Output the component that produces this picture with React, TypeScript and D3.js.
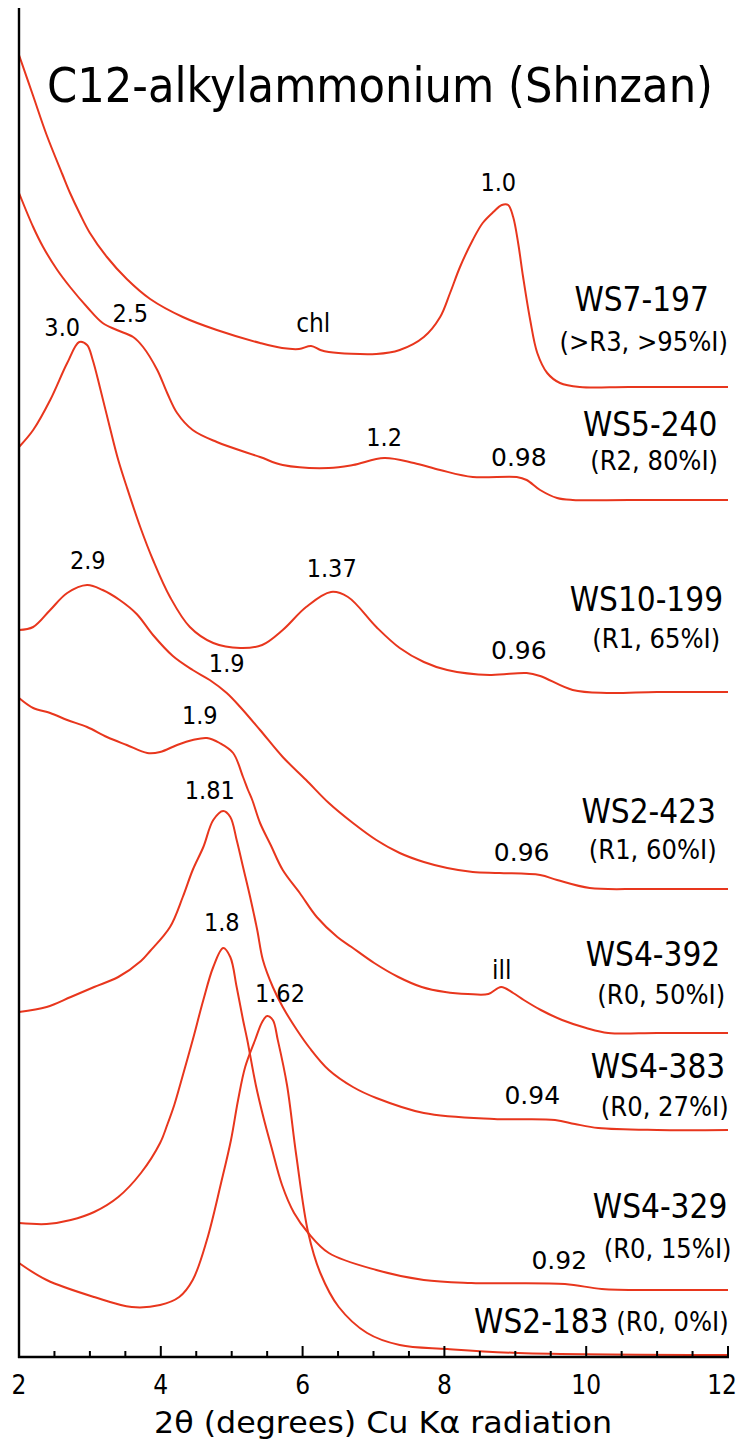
import * as d3 from "d3"

type Pt = [number, number]

// 2θ (degrees) vs. intensity (arbitrary units, traces stacked with offsets)
const ws7_197: Pt[] = [
  [2.0, 130.2], [2.2, 126.1], [2.39, 122.2], [2.61, 118.3], [2.72, 116.4], [2.86, 114.3],
  [3.0, 112.4], [3.24, 110.0], [3.52, 107.8], [3.85, 105.8], [4.31, 104.0], [4.79, 102.7],
  [5.4, 101.4], [5.71, 100.9], [5.95, 100.8], [6.12, 101.1], [6.25, 100.7], [6.37, 100.5],
  [7.04, 100.3], [7.37, 100.7], [7.71, 102.0], [7.94, 104.0], [8.08, 106.4], [8.22, 109.0],
  [8.4, 111.7], [8.54, 113.4], [8.69, 114.5], [8.81, 115.2], [8.9, 115.2], [8.97, 114.0],
  [9.04, 111.4], [9.11, 108.0], [9.21, 103.7], [9.31, 100.4], [9.45, 98.4], [9.63, 97.4],
  [9.91, 97.0], [10.6, 97.0], [12.0, 97.0],
]

const ws5_240: Pt[] = [
  [2.0, 116.4], [2.2, 113.0], [2.34, 111.0], [2.54, 108.7], [2.72, 107.0], [2.96, 105.0],
  [3.18, 103.4], [3.38, 102.7], [3.61, 102.0], [3.75, 101.0], [3.95, 98.7], [4.09, 96.4],
  [4.23, 94.4], [4.45, 92.7], [4.79, 91.5], [5.4, 90.0], [5.72, 89.2], [6.37, 88.9],
  [6.71, 89.2], [7.15, 89.9], [7.57, 89.4], [7.94, 88.7], [8.4, 88.0], [9.02, 88.0],
  [9.16, 87.7], [9.35, 86.7], [9.59, 85.9], [9.81, 85.7], [10.6, 85.7], [12.0, 85.7],
]

const ws10_199: Pt[] = [
  [2.0, 91.0], [2.2, 92.7], [2.44, 95.7], [2.68, 99.4], [2.85, 101.5], [2.96, 101.2],
  [3.04, 99.7], [3.14, 97.0], [3.28, 93.0], [3.4, 89.7], [3.52, 87.0], [3.71, 83.0],
  [3.89, 79.7], [4.13, 76.0], [4.41, 73.0], [4.74, 71.4], [5.12, 70.9], [5.43, 71.2],
  [5.72, 72.7], [6.05, 75.0], [6.4, 76.5], [6.64, 76.0], [7.04, 73.0], [7.37, 70.9],
  [7.71, 69.5], [8.04, 68.7], [8.64, 68.2], [9.16, 68.4], [9.35, 68.1], [9.81, 66.7],
  [10.29, 66.4], [11.0, 66.5], [12.0, 66.5],
]

const ws2_423: Pt[] = [
  [2.0, 72.7], [2.2, 73.0], [2.44, 74.7], [2.68, 76.4], [2.96, 77.2], [3.18, 76.7],
  [3.42, 75.7], [3.66, 74.3], [3.89, 72.2], [4.17, 70.1], [4.45, 68.7], [4.69, 67.7],
  [4.93, 66.4], [5.12, 65.0], [5.4, 62.7], [5.72, 60.0], [6.05, 57.7], [6.37, 55.4],
  [6.71, 53.4], [7.04, 51.7], [7.37, 50.4], [7.71, 49.5], [8.04, 48.9], [8.4, 48.5],
  [8.78, 48.4], [9.35, 48.2], [9.59, 47.7], [10.05, 46.9], [10.8, 46.8], [12.0, 46.8],
]

const ws4_392: Pt[] = [
  [2.0, 65.9], [2.2, 64.9], [2.44, 64.4], [2.68, 63.7], [2.96, 63.0], [3.24, 62.0],
  [3.52, 61.2], [3.81, 60.4], [3.99, 60.5], [4.23, 61.2], [4.45, 61.7], [4.65, 61.9],
  [4.83, 61.4], [5.02, 60.4], [5.16, 58.0], [5.23, 56.7], [5.29, 55.7], [5.4, 53.4],
  [5.55, 51.2], [5.72, 48.7], [5.96, 46.4], [6.2, 44.0], [6.49, 42.0], [6.69, 41.0],
  [7.01, 39.4], [7.35, 38.0], [7.68, 37.0], [8.01, 36.5], [8.33, 36.3], [8.62, 36.3],
  [8.8, 37.0], [8.97, 36.4], [9.12, 35.7], [9.36, 34.7], [9.66, 33.7], [10.0, 32.9],
  [10.31, 32.4], [11.0, 32.4], [12.0, 32.4],
]

const ws4_383: Pt[] = [
  [2.0, 34.5], [2.39, 35.0], [2.73, 36.0], [3.06, 37.0], [3.4, 38.0], [3.72, 39.6],
  [3.85, 40.6], [4.13, 43.0], [4.31, 46.0], [4.45, 48.7], [4.6, 51.0], [4.74, 53.7],
  [4.88, 54.6], [4.98, 54.0], [5.07, 51.7], [5.16, 49.0], [5.26, 46.0], [5.36, 42.7],
  [5.44, 39.7], [5.58, 37.0], [5.72, 35.0], [5.92, 32.7], [6.1, 30.9], [6.37, 28.7],
  [6.71, 27.0], [7.04, 25.9], [7.71, 24.4], [8.7, 23.8], [9.56, 23.7], [9.84, 23.3],
  [10.17, 22.9], [11.0, 22.7], [12.0, 22.7],
]

const ws4_329: Pt[] = [
  [2.0, 13.4], [2.39, 13.3], [2.73, 13.7], [3.06, 14.5], [3.4, 16.0], [3.72, 18.4],
  [3.99, 21.4], [4.09, 23.2], [4.19, 25.2], [4.28, 27.4], [4.45, 31.7], [4.6, 35.7],
  [4.74, 39.0], [4.88, 40.9], [4.98, 40.0], [5.07, 37.0], [5.16, 33.7], [5.22, 31.7],
  [5.34, 27.2], [5.45, 23.9], [5.56, 21.0], [5.71, 17.2], [5.88, 14.4], [6.08, 12.4],
  [6.37, 10.4], [7.04, 8.7], [7.71, 7.7], [8.38, 7.4], [9.7, 7.3], [10.22, 6.8],
  [11.0, 6.7], [12.0, 6.7],
]

const ws2_183: Pt[] = [
  [2.0, 9.4], [2.39, 7.7], [3.06, 6.0], [3.59, 5.0], [3.99, 5.2], [4.26, 6.0],
  [4.45, 7.7], [4.65, 11.7], [4.85, 17.4], [4.99, 21.7], [5.09, 25.7], [5.19, 29.0],
  [5.33, 31.7], [5.43, 33.5], [5.5, 34.1], [5.58, 33.7], [5.65, 31.7], [5.78, 27.2],
  [5.91, 20.2], [6.08, 12.4], [6.25, 8.4], [6.51, 5.0], [6.91, 2.4], [7.37, 1.2],
  [8.04, 0.8], [9.04, 0.4], [12.0, 0.2],
]

const traces = [ws7_197, ws5_240, ws10_199, ws2_423, ws4_392, ws4_383, ws4_329, ws2_183]

// peak d-spacing annotations (nm) and phase labels: [2θ, intensity, text]
const peakLabels: [number, number, string][] = [
  [8.76, 117.5, "1.0"], [2.61, 103.0, "3.0"], [3.57, 104.4, "2.5"], [7.15, 92.0, "1.2"],
  [2.97, 79.7, "2.9"], [6.41, 78.9, "1.37"], [4.93, 69.4, "1.9"], [4.55, 64.2, "1.9"],
  [4.69, 56.7, "1.81"], [4.86, 43.5, "1.8"], [5.68, 36.4, "1.62"],
]
const smallPeakLabels: [number, number, string][] = [
  [9.05, 90.0, "0.98"], [9.05, 70.7, "0.96"], [9.09, 50.5, "0.96"], [9.24, 26.2, "0.94"],
  [9.62, 9.7, "0.92"],
]
const phaseLabels: [number, number, string][] = [
  [6.15, 103.4, "chl"], [8.81, 38.7, "ill"],
]

// sample names and ordering / illite content: [2θ right edge, intensity, text]
const sampleNames: [number, number, string][] = [
  [11.73, 105.8, "WS7-197"], [11.85, 93.3, "WS5-240"], [11.93, 75.8, "WS10-199"],
  [11.83, 54.6, "WS2-423"], [11.89, 40.3, "WS4-392"], [11.96, 29.1, "WS4-383"],
  [11.99, 15.1, "WS4-329"],
]
const sampleNotes: [number, number, string][] = [
  [12.0, 101.6, "(>R3, >95%I)"], [11.86, 89.7, "(R2, 80%I)"], [11.89, 71.9, "(R1, 65%I)"],
  [11.84, 50.8, "(R1, 60%I)"], [11.96, 36.3, "(R0, 50%I)"], [12.01, 25.1, "(R0, 27%I)"],
  [12.05, 10.9, "(R0, 15%I)"],
]
const lastSample = { x: 12.01, y: 3.6, name: "WS2-183", note: " (R0, 0%I)" }

const xTicks = [2, 4, 6, 8, 10, 12]
const minorTicks = d3.range(2.5, 12, 0.5).filter((t) => t % 2 !== 0)

const W = 739
const H = 1450
const RED = "#e8361d"
const FONT = "'DejaVu Sans', Verdana, sans-serif"
const NARROW = "'DejaVu Sans Condensed', 'DejaVu Sans', sans-serif"

export default function App() {
  const x = d3.scaleLinear().domain([2, 12]).range([19, 728])
  const y = d3.scaleLinear().domain([0, 135]).range([1357, 7])
  const line = d3
    .line<Pt>()
    .x((d) => x(d[0]))
    .y((d) => y(d[1]))
    .curve(d3.curveCatmullRom.alpha(0.5))

  const axisY = y(0)

  return (
    <div style={{ position: "absolute", left: 0, top: 0 }}>
      <svg width={W} height={H} style={{ display: "block", background: "#fff" }}>
        {/* title */}
        <text x={47} y={102} fontFamily={NARROW} fontSize={48} textLength={666} lengthAdjust="spacingAndGlyphs" fill="#000">
          C12-alkylammonium (Shinzan)
        </text>

        {/* traces */}
        <g fill="none" stroke={RED} strokeWidth={2} strokeLinejoin="round">
          {traces.map((t, i) => (
            <path key={i} d={line(t) || ""} />
          ))}
        </g>

        {/* axes */}
        <line x1={x(2)} x2={x(2)} y1={8} y2={axisY + 1} stroke="#000" strokeWidth={2.4} />
        <line x1={x(2) - 1} x2={x(12) + 1} y1={axisY} y2={axisY} stroke="#000" strokeWidth={2.6} />
        {xTicks.map((t) => (
          <line key={"M" + t} x1={x(t)} x2={x(t)} y1={axisY} y2={axisY - 11} stroke="#000" strokeWidth={2} />
        ))}
        {minorTicks.map((t) => (
          <line key={"m" + t} x1={x(t)} x2={x(t)} y1={axisY} y2={axisY - 6} stroke="#000" strokeWidth={2} />
        ))}
        {xTicks.map((t, i) => (
          <text
            key={"t" + t}
            x={i === xTicks.length - 1 ? 737 : x(t)}
            y={1394}
            textAnchor={i === xTicks.length - 1 ? "end" : "middle"}
            fontFamily={NARROW}
            fontSize={26}
            fill="#000"
          >
            {t}
          </text>
        ))}
        <text x={383} y={1433} textAnchor="middle" fontFamily={NARROW} fontSize={30} textLength={458} lengthAdjust="spacingAndGlyphs" fill="#000">
          2θ (degrees) Cu Kα radiation
        </text>

        {/* peak labels */}
        <g fill="#000" textAnchor="middle" dominantBaseline="central">
          {peakLabels.map(([a, b, s], i) => (
            <text key={"p" + i} x={x(a)} y={y(b)} fontFamily={NARROW} fontSize={25}>{s}</text>
          ))}
          {smallPeakLabels.map(([a, b, s], i) => (
            <text key={"s" + i} x={x(a)} y={y(b)} fontFamily={FONT} fontSize={25}>{s}</text>
          ))}
          {phaseLabels.map(([a, b, s], i) => (
            <text key={"ph" + i} x={x(a)} y={y(b)} fontFamily={NARROW} fontSize={26}>{s}</text>
          ))}
        </g>

        {/* sample labels */}
        <g fontFamily={NARROW} fill="#000" textAnchor="end" dominantBaseline="central">
          {sampleNames.map(([a, b, s]) => (
            <text key={s} x={x(a)} y={y(b)} fontSize={33}>{s}</text>
          ))}
          {sampleNotes.map(([a, b, s], i) => (
            <text key={"n" + i} x={x(a)} y={y(b)} fontSize={27}>{s}</text>
          ))}
          <text x={x(lastSample.x)} y={y(lastSample.y)}>
            <tspan fontSize={33}>{lastSample.name}</tspan>
            <tspan fontSize={27}>{lastSample.note}</tspan>
          </text>
        </g>
      </svg>
    </div>
  )
}
